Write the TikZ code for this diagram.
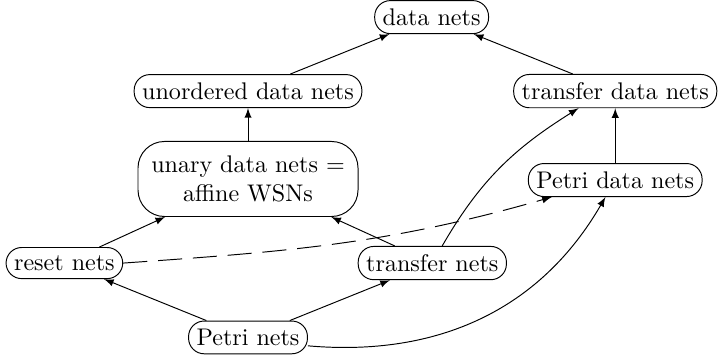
\documentclass[tikz,border=0pt]{standalone}
\usetikzlibrary{positioning}

\tikzset{
  net/.style={draw, rounded corners=6.5pt},
  bignet/.style={net, rounded corners=11pt, align=center, inner xsep=5.5pt, inner ysep=6pt}
}

\begin{document}
\begin{tikzpicture}[>=latex]
  \useasboundingbox (0,0) rectangle (10.48,5.18);
  \node [net] (dn) at (6.30,4.93) {data nets};
  \node [net] (udn) at (3.62,3.85) {unordered data nets};
  \node [net] (tdn) at (8.98,3.85) {transfer data nets};
  \node [bignet, below=0.48cm of udn] (un) {unary data nets =\\ affine WSNs};
  \node [net, below=0.80cm of tdn] (pdn) {Petri data nets};
  \node [net] (rn) at (0.94,1.34) {reset nets};
  \node [net] (tn) at (6.31,1.34) {transfer nets};
  \node [net] (pn) at (3.62,0.255) {Petri nets};

  \draw [->] (udn) -- (dn);
  \draw [->] (tdn) -- (dn);
  \draw [->] (un) -- (udn);
  \draw [->] (pdn) -- (tdn);
  \draw [->] (rn) -- (un);
  \draw [->] (tn) -- (un);
  \draw [->] (pn) -- (rn);
  \draw [->] (pn) -- (tn);
  \draw [->, dash pattern=on 10pt off 4.5pt] (rn.east) to [out=4, in=196] (pdn.195);
  \draw [->] (tn.60) to [out=60, in=212] (tdn.205);
  \draw [->] (pn.-8) to [out=-5, in=-120] (pdn);
\end{tikzpicture}
\end{document}
